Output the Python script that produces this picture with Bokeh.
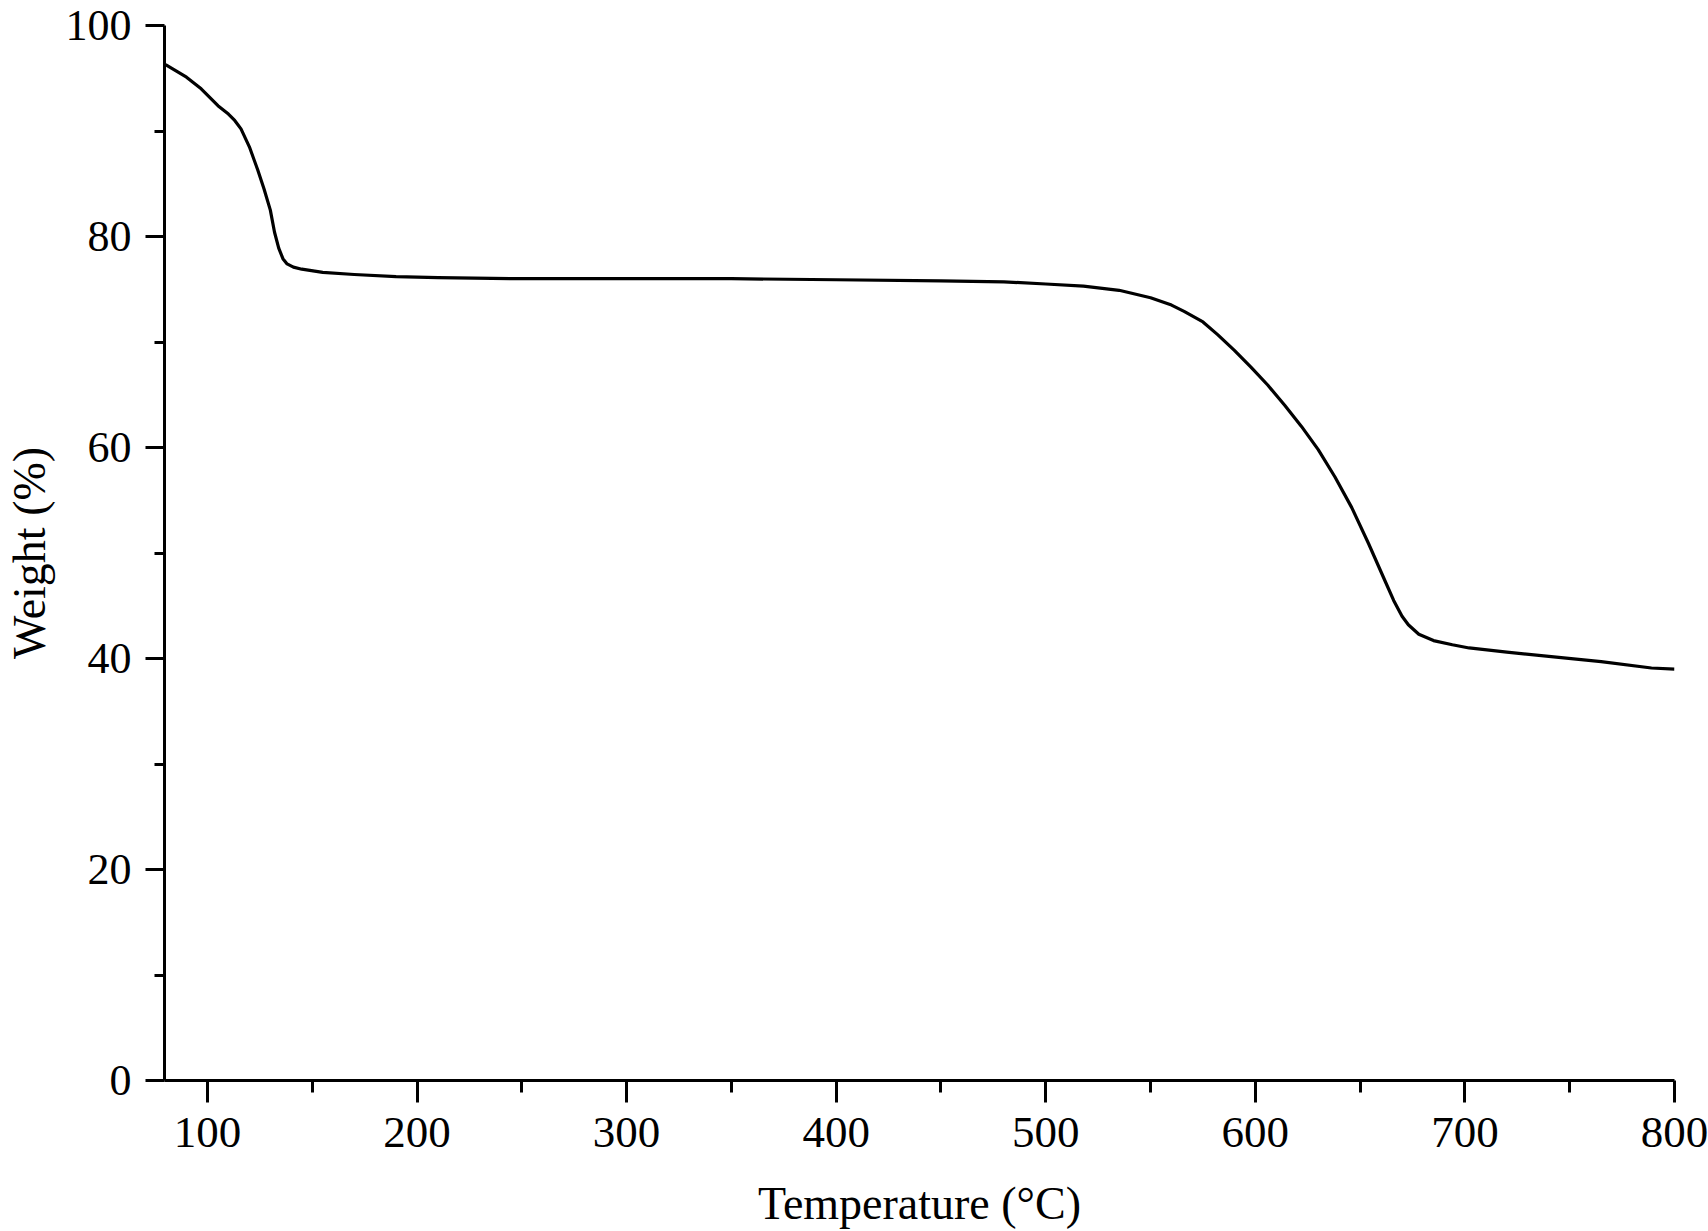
from bokeh.plotting import figure
from bokeh.models import Range1d, FixedTicker
from bokeh.embed import file_html
from bokeh.resources import INLINE

# Temperature (°C) and weight (%)
temperature = [80, 85, 90, 97, 105, 110, 113, 116, 120, 124, 127, 130, 132, 134, 136, 138, 141, 145,
               155, 170, 190, 210, 250, 300, 350, 400, 450, 480, 500, 518, 535, 550, 560, 566, 575, 582,
               590, 598, 606, 614, 622, 630, 638, 646, 654, 662, 666, 670, 673, 678, 685, 694, 702,
               720, 740, 765, 789, 800]
weight = [96.3, 95.7, 95.1, 94.0, 92.4, 91.6, 91.0, 90.2, 88.5, 86.3, 84.5, 82.5, 80.4, 78.9, 77.9, 77.4, 77.1, 76.9,
          76.6, 76.4, 76.2, 76.1, 76.0, 76.0, 76.0, 75.9, 75.8, 75.7, 75.5, 75.3, 74.9, 74.2, 73.5, 72.9, 71.9, 70.7,
          69.2, 67.6, 65.9, 64.0, 62.0, 59.8, 57.2, 54.3, 50.9, 47.3, 45.5, 44.0, 43.2, 42.3, 41.7, 41.3, 41.0,
          40.6, 40.2, 39.7, 39.1, 39.0]

x_major = [100, 200, 300, 400, 500, 600, 700, 800]
x_minor = [150, 250, 350, 450, 550, 650, 750]
y_major = [0, 20, 40, 60, 80, 100]
y_minor = [10, 30, 50, 70, 90]

FONT = "Liberation Serif"

p = figure(width=1708, height=1231, output_backend="svg", toolbar_location=None,
           x_range=Range1d(79.5, 800), y_range=Range1d(0, 100),
           min_border_left=163, min_border_right=34, min_border_top=25, min_border_bottom=149)

p.line(temperature, weight, line_color="black", line_width=3.2, line_join="round")

p.outline_line_color = None
p.xgrid.grid_line_color = None
p.ygrid.grid_line_color = None
p.background_fill_color = "white"
p.border_fill_color = "white"

p.xaxis.ticker = FixedTicker(ticks=x_major, minor_ticks=x_minor)
p.yaxis.ticker = FixedTicker(ticks=y_major, minor_ticks=y_minor)

for ax in (p.xaxis[0], p.yaxis[0]):
    ax.axis_line_width = 3
    ax.axis_line_color = "black"
    ax.major_tick_line_width = 3
    ax.minor_tick_line_width = 3
    ax.major_tick_line_color = "black"
    ax.minor_tick_line_color = "black"
    ax.major_tick_in = 0
    ax.minor_tick_in = 0
    ax.major_label_text_font = FONT
    ax.major_label_text_color = "black"
    ax.axis_label_text_font = FONT
    ax.axis_label_text_font_size = "46px"
    ax.axis_label_text_font_style = "normal"
    ax.axis_label_text_color = "black"

p.xaxis.major_label_text_font_size = "45px"
p.yaxis.major_label_text_font_size = "44px"
p.xaxis.major_tick_out = 22
p.xaxis.minor_tick_out = 12
p.yaxis.major_tick_out = 19
p.yaxis.minor_tick_out = 10
p.xaxis.major_label_standoff = 15
p.yaxis.major_label_standoff = 14
p.xaxis.axis_label = "Temperature (°C)"
p.yaxis.axis_label = "Weight (%)"
p.xaxis.axis_label_standoff = 28
p.yaxis.axis_label_standoff = 8

open("out.html", "w").write(file_html(p, INLINE))
